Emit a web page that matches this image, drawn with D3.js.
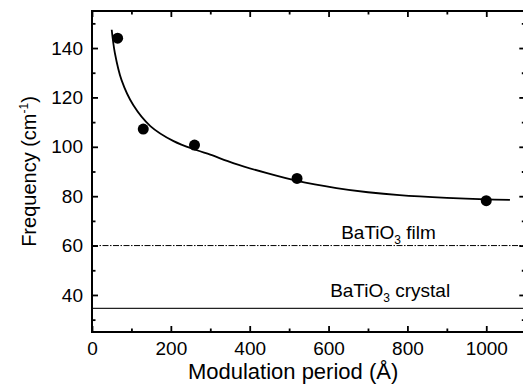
<!DOCTYPE html>
<html>
<head>
<meta charset="utf-8">
<script src="https://cdn.jsdelivr.net/npm/d3@7"></script>
<style>
  body { margin: 0; background: #fff; }
  svg { display: block; font-family: "Liberation Sans", Arial, sans-serif; }
</style>
</head>
<body>
<div id="chart"></div>
<script>
'use strict';

// measured points
const periods = [65, 130, 260, 520, 1000];
const freqs = [144, 107.2, 100.7, 87.2, 78.2];

// fitted curve
const fitX = [50, 58, 75, 105, 148, 207, 266, 300, 360, 444, 520, 620, 700, 780, 900, 1000, 1060];
const fitY = [147.4, 138, 127, 116.8, 108.4, 102.3, 98.6, 96.8, 93.3, 89.3, 86.2, 83.3, 81.6, 80.4, 79.3, 78.7, 78.5];

// reference levels
const filmFreq = 60;
const crystalFreq = 34.6;

const xMajor = [0, 200, 400, 600, 800, 1000];
const xMinor = [100, 300, 500, 700, 900];
const yMajor = [40, 60, 80, 100, 120, 140];
const yMinor = [30, 50, 70, 90, 110, 130, 150];

const dims = {
  width: 523,
  height: 386,
  margin: { top: 11, left: 92, right: 0, bottom: 54 }
};
dims.ctrWidth = 433.3;
dims.ctrHeight = dims.height - dims.margin.top - dims.margin.bottom;

const svg = d3.select('#chart')
  .append('svg')
  .attr('width', dims.width)
  .attr('height', dims.height);

const g = svg.append('g')
  .attr('transform', `translate(${dims.margin.left}, ${dims.margin.top})`);

const xScale = d3.scaleLinear().domain([0, 1099]).range([0, dims.ctrWidth]);
const yScale = d3.scaleLinear().domain([25, 155]).range([dims.ctrHeight, 0]);

// horizontal reference lines
g.append('line')
  .attr('x1', 0).attr('x2', dims.ctrWidth)
  .attr('y1', yScale(filmFreq)).attr('y2', yScale(filmFreq))
  .attr('stroke', '#000').attr('stroke-width', 1)
  .attr('stroke-dasharray', '6,1.5,1.5,1.5');

g.append('line')
  .attr('x1', 0).attr('x2', dims.ctrWidth)
  .attr('y1', yScale(crystalFreq)).attr('y2', yScale(crystalFreq))
  .attr('stroke', '#222').attr('stroke-width', 1.2);

// labels for the reference lines
const labels = [
  { x: 632, y: 62.7, main: 'BaTiO', rest: ' film' },
  { x: 604, y: 39.3, main: 'BaTiO', rest: ' crystal' }
];
labels.forEach(function(d) {
  const t = g.append('text')
    .attr('x', xScale(d.x))
    .attr('y', yScale(d.y))
    .style('font-size', '19px')
    .text(d.main);
  t.append('tspan').attr('dy', 5).style('font-size', '12px').text('3');
  t.append('tspan').attr('dy', -5).text(d.rest);
});

// fit curve
const line = d3.line()
  .x((d, i) => xScale(fitX[i]))
  .y(d => yScale(d))
  .curve(d3.curveCatmullRom.alpha(0.5));

g.append('path')
  .datum(fitY)
  .attr('d', line)
  .attr('fill', 'none')
  .attr('stroke', '#000')
  .attr('stroke-width', 1.8);

// points
g.append('g')
  .selectAll('circle')
  .data(periods)
  .join('circle')
  .attr('cx', d => xScale(d))
  .attr('cy', (d, i) => yScale(freqs[i]))
  .attr('r', 5.5)
  .attr('fill', '#000');

// axes: ticks pointing inward on all four sides
function styleAxis(sel) {
  sel.select('.domain').remove();
  sel.selectAll('line').attr('stroke', '#000').attr('stroke-width', 1.8);
  sel.selectAll('text').style('font-size', '19px').attr('fill', '#000');
}

g.append('g')
  .attr('transform', `translate(0, ${dims.ctrHeight})`)
  .call(d3.axisBottom(xScale).tickValues(xMajor).tickFormat(d3.format('d'))
    .tickSizeInner(-6).tickSizeOuter(0).tickPadding(10))
  .call(styleAxis);
g.append('g')
  .attr('transform', `translate(0, ${dims.ctrHeight})`)
  .call(d3.axisBottom(xScale).tickValues(xMinor).tickSizeInner(-3.5).tickSizeOuter(0).tickFormat(''))
  .call(styleAxis);
g.append('g')
  .call(d3.axisTop(xScale).tickValues(xMajor).tickSizeInner(-6).tickSizeOuter(0).tickFormat(''))
  .call(styleAxis);
g.append('g')
  .call(d3.axisTop(xScale).tickValues(xMinor).tickSizeInner(-3.5).tickSizeOuter(0).tickFormat(''))
  .call(styleAxis);

g.append('g')
  .call(d3.axisLeft(yScale).tickValues(yMajor).tickSizeInner(-6).tickSizeOuter(0).tickPadding(9))
  .call(styleAxis);
g.append('g')
  .call(d3.axisLeft(yScale).tickValues(yMinor).tickSizeInner(-3.5).tickSizeOuter(0).tickFormat(''))
  .call(styleAxis);
g.append('g')
  .attr('transform', `translate(${dims.ctrWidth}, 0)`)
  .call(d3.axisRight(yScale).tickValues(yMajor).tickSizeInner(-6).tickSizeOuter(0).tickFormat(''))
  .call(styleAxis);
g.append('g')
  .attr('transform', `translate(${dims.ctrWidth}, 0)`)
  .call(d3.axisRight(yScale).tickValues(yMinor).tickSizeInner(-3.5).tickSizeOuter(0).tickFormat(''))
  .call(styleAxis);

// frame
g.append('rect')
  .attr('x', 0).attr('y', 0)
  .attr('width', dims.ctrWidth).attr('height', dims.ctrHeight)
  .attr('fill', 'none')
  .attr('stroke', '#000')
  .attr('stroke-width', 2);

// axis titles
svg.append('text')
  .attr('x', dims.margin.left + xScale(510))
  .attr('y', 379)
  .attr('text-anchor', 'middle')
  .style('font-size', '22px')
  .text('Modulation period (Å)');

const yTitle = svg.append('text')
  .attr('transform', `translate(36, ${dims.margin.top + yScale(90)}) rotate(-90)`)
  .attr('text-anchor', 'middle')
  .style('font-size', '20px')
  .text('Frequency (cm');
yTitle.append('tspan').attr('dy', -8).style('font-size', '12px').text('-1');
yTitle.append('tspan').attr('dy', 8).text(')');
</script>
</body>
</html>
